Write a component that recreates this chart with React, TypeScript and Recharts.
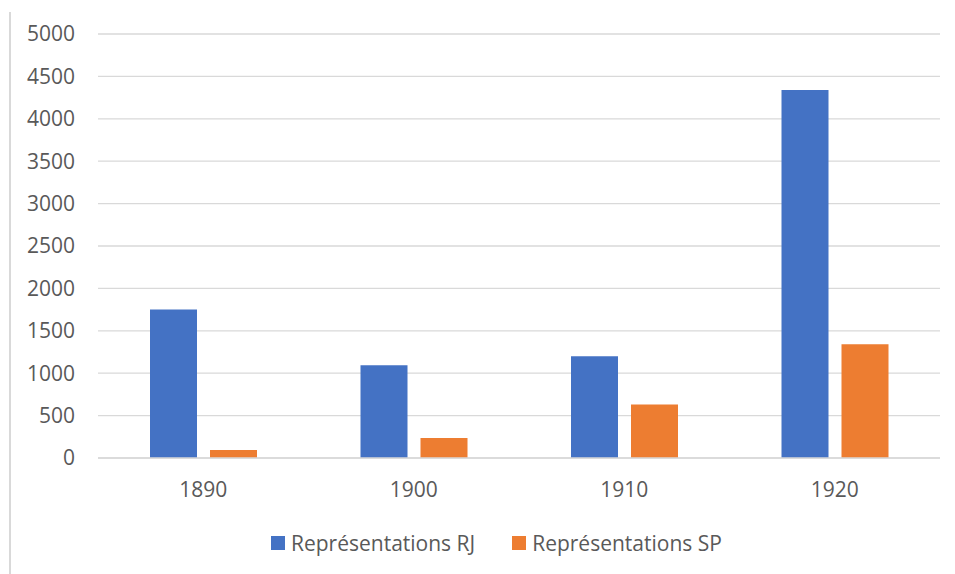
import React from 'react';
import { BarChart, Bar, XAxis, YAxis, CartesianGrid, Legend } from 'recharts';

const years = ['1890', '1900', '1910', '1920'];
const rjValues = [1750, 1095, 1200, 4340];
const spValues = [95, 235, 630, 1340];
const yTicks = [0, 500, 1000, 1500, 2000, 2500, 3000, 3500, 4000, 4500, 5000];

const series = [
  { key: 'rj', name: 'Représentations RJ', color: '#4472C4' },
  { key: 'sp', name: 'Représentations SP', color: '#ED7D31' },
];

const data = years.map((year, i) => ({ year, rj: rjValues[i], sp: spValues[i] }));

const FONT = '"Open Sans", "Liberation Sans", sans-serif';
const TEXT = '#595959';
const GRID = '#D9D9D9';
const FONT_SIZE = 21;

// legend drawn in the same spot Excel puts it, below the axis labels
const LegendContent = () => (
  <div style={{ display: 'flex', alignItems: 'center', paddingLeft: 271, fontFamily: FONT, fontSize: FONT_SIZE, color: TEXT }}>
    {series.map((s, i) => (
      <div key={s.key} style={{ display: 'flex', alignItems: 'center', marginLeft: i === 0 ? 0 : 37 }}>
        <span style={{ width: 14, height: 14, background: s.color, marginRight: 6, display: 'inline-block' }} />
        <span>{s.name}</span>
      </div>
    ))}
  </div>
);

export default function App() {
  return (
    <div style={{ position: 'absolute', left: 0, top: 0, width: 955, height: 574, background: '#fff' }}>
      <div style={{ position: 'absolute', left: 9, top: 12, width: 2, height: 562, background: GRID }} />
      <BarChart
        width={955}
        height={574}
        data={data}
        margin={{ top: 34, right: 15, left: 0, bottom: 86 }}
        barSize={47}
        barGap={13}
      >
        <CartesianGrid vertical={false} stroke={GRID} strokeWidth={1.3} />
        <XAxis
          dataKey="year"
          axisLine={{ stroke: GRID, strokeWidth: 1.3 }}
          tickLine={false}
          tickSize={0}
          tickMargin={24}
          tick={{ fill: TEXT, fontSize: FONT_SIZE, fontFamily: FONT }}
        />
        <YAxis
          width={98}
          domain={[0, 5000]}
          ticks={yTicks}
          axisLine={false}
          tickLine={false}
          tickSize={0}
          tickMargin={23}
          tick={{ fill: TEXT, fontSize: FONT_SIZE, fontFamily: FONT }}
        />
        <Legend
          verticalAlign="middle"
          align="center"
          layout="horizontal"
          content={<LegendContent />}
          wrapperStyle={{ top: 529, left: 0, width: 955 }}
        />
        {series.map((s) => (
          <Bar key={s.key} dataKey={s.key} name={s.name} fill={s.color} isAnimationActive={false} />
        ))}
      </BarChart>
    </div>
  );
}
